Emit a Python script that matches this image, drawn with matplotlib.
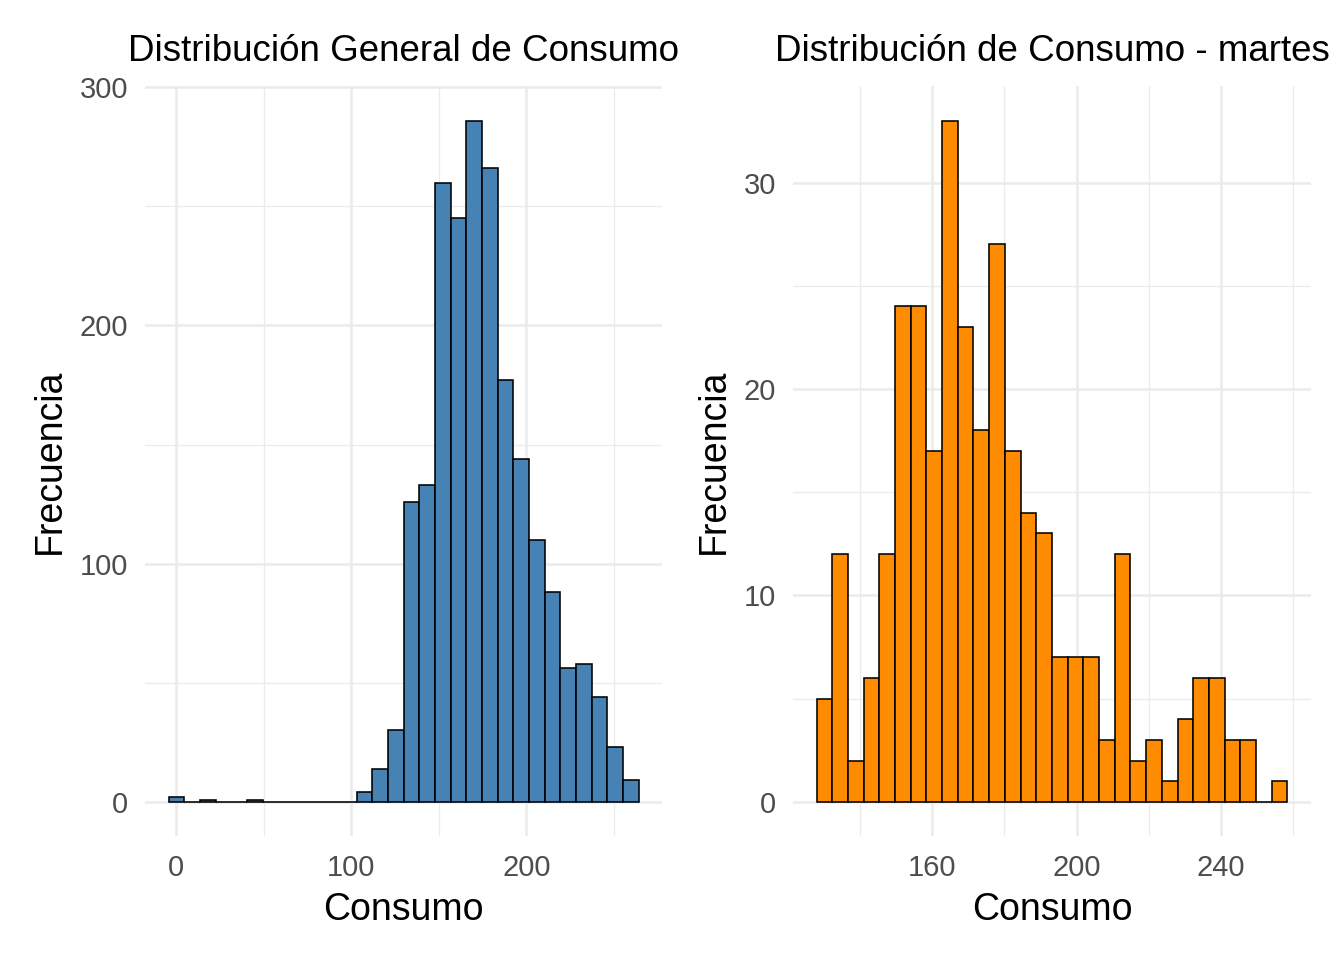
import matplotlib
matplotlib.use('Agg')
import matplotlib.pyplot as plt
import numpy as np

plt.rcParams['font.family'] = ['Liberation Sans', 'DejaVu Sans']

# Histogram general (30 bins)
general_first_center = 0.0
general_bin_width = 8.95
general_counts = [2, 0, 1, 0, 0, 1, 0, 0, 0, 0, 0, 0, 4, 14, 30,
                  126, 133, 260, 245, 286, 266, 177, 144, 110, 88,
                  56, 58, 44, 23, 9]

# Histogram martes (30 bins)
martes_first_center = 130.0
martes_bin_width = 4.357
martes_counts = [5, 12, 2, 6, 12, 24, 24, 17, 33, 23, 18, 27, 17, 14, 13,
                 7, 7, 7, 3, 12, 2, 3, 1, 4, 6, 6, 3, 3, 0, 1]

general_xticks = [0, 100, 200]
general_yticks = [0, 100, 200, 300]
martes_xticks = [160, 200, 240]
martes_yticks = [0, 10, 20, 30]

fig = plt.figure(figsize=(13.44, 9.6), dpi=100)


def draw_hist(ax, first, width, counts, color, xticks, yticks, title):
    counts = np.array(counts)
    centers = first + width * np.arange(len(counts))
    ax.bar(centers, counts, width=width, color=color, edgecolor='black',
           linewidth=1.15, align='center', zorder=3)
    lo, hi = centers[0] - width / 2, centers[-1] + width / 2
    pad = (hi - lo) * 0.05
    ymax = counts.max()

    step_x = xticks[1] - xticks[0]
    step_y = yticks[1] - yticks[0]
    ax.set_xticks(xticks)
    ax.set_yticks(yticks)
    minor_x = np.arange(xticks[0] - step_x / 2, hi + pad, step_x)
    minor_x = minor_x[minor_x > lo - pad]
    minor_y = np.arange(yticks[0] + step_y / 2, ymax * 1.05, step_y)
    ax.set_xticks(minor_x, minor=True)
    ax.set_yticks(minor_y, minor=True)
    ax.set_xlim(lo - pad, hi + pad)
    ax.set_ylim(-ymax * 0.05, ymax * 1.05)

    ax.grid(which='major', color='#EBEBEB', linewidth=1.8, zorder=0)
    ax.grid(which='minor', color='#EBEBEB', linewidth=0.9, zorder=0)
    ax.set_axisbelow(True)
    for s in ax.spines.values():
        s.set_visible(False)
    ax.tick_params(which='both', length=0)
    ax.tick_params(axis='both', labelsize=21, labelcolor='#4D4D4D')
    ax.tick_params(axis='x', pad=13)
    ax.tick_params(axis='y', pad=12)

    ax.set_title(title, fontsize=26.5, pad=18)
    ax.set_xlabel('Consumo', fontsize=27, labelpad=7)
    ax.set_ylabel('Frecuencia', fontsize=27, labelpad=8.5)


ax1 = fig.add_axes([0.1079, 0.1292, 0.3847, 0.7807])
draw_hist(ax1, general_first_center, general_bin_width, general_counts,
          '#4682B4', general_xticks, general_yticks,
          'Distribución General de Consumo')

ax2 = fig.add_axes([0.590, 0.1292, 0.3854, 0.7807])
draw_hist(ax2, martes_first_center, martes_bin_width, martes_counts,
          '#FF8C00', martes_xticks, martes_yticks,
          'Distribución de Consumo - martes')

fig.savefig('out.png', dpi=100)
